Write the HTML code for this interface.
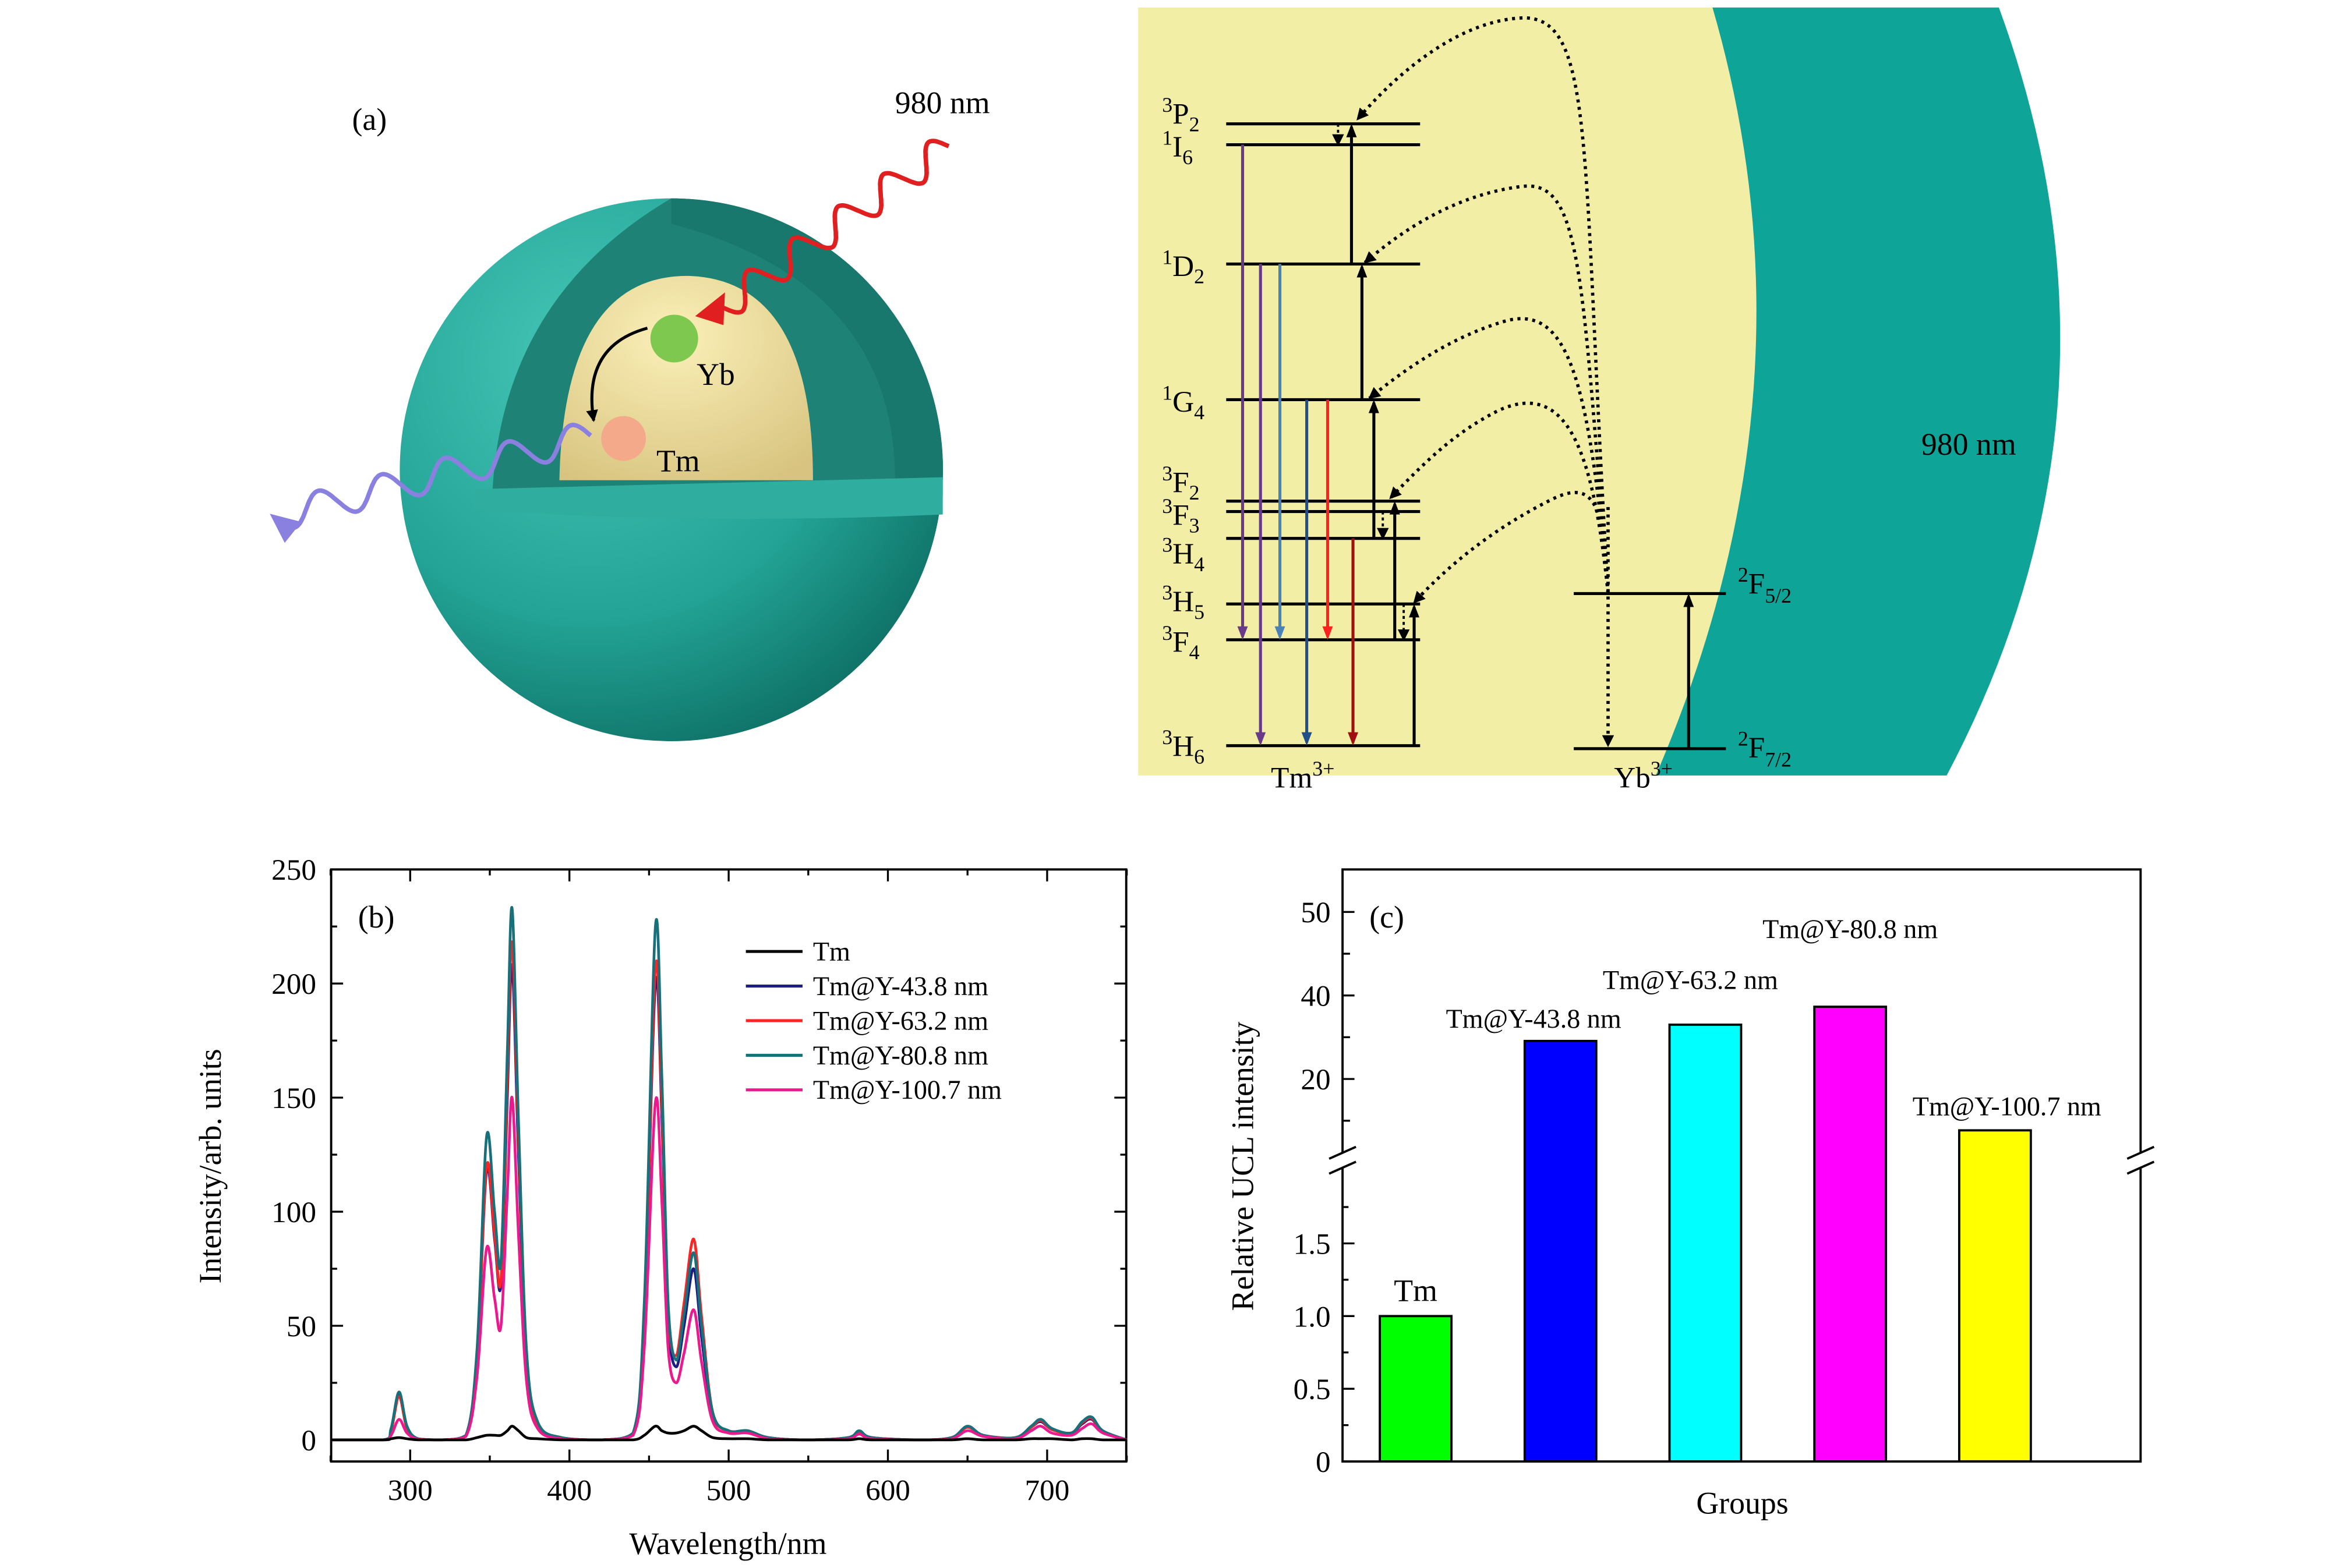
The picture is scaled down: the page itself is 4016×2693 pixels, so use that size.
<!DOCTYPE html>
<html><head><meta charset="utf-8">
<style>
html,body{margin:0;padding:0;background:#fff}
svg{display:block}
text{font-family:"Liberation Serif",serif;fill:#000}
</style></head>
<body>
<svg id="fig" xmlns="http://www.w3.org/2000/svg" width="4016" height="2693" viewBox="0 0 1568 1051.4">
<defs>
<radialGradient id="sph" cx="0.35" cy="0.3" r="0.8">
<stop offset="0" stop-color="#46c7b8"/><stop offset="0.6" stop-color="#22a395"/><stop offset="1" stop-color="#0c6a60"/>
</radialGradient>
<radialGradient id="core" cx="0.45" cy="0.3" r="0.8">
<stop offset="0" stop-color="#fbf0b8"/><stop offset="1" stop-color="#d8c480"/>
</radialGradient>
<marker id="ah" markerWidth="8" markerHeight="8" refX="7" refY="4" orient="auto" markerUnits="userSpaceOnUse"><path d="M0,0 L8,4 L0,8 Z" fill="#000"/></marker>
<marker id="ahP" markerWidth="20" markerHeight="18" refX="16" refY="9" orient="auto" markerUnits="userSpaceOnUse"><path d="M0,0 L20,9 L0,18 Z" fill="#8a80e0"/></marker>
</defs>

<g>
<text x="236" y="87" font-size="21">(a)</text>
<text x="600" y="76" font-size="21">980 nm</text>
<circle cx="450" cy="315" r="182" fill="url(#sph)"/>
<path d="M330,332 Q336,200 450,133 A182,182 0 0 1 632,322 L632,332 Z" fill="#1f8276"/>
<path d="M450,133 A182,182 0 0 1 632,322 L600,322 Q600,190 450,150 Z" fill="#18786d"/>
<path d="M375,322 Q378,184 462,185 Q545,188 545,322 Z" fill="url(#core)"/>
<path d="M318,328 L632,320 L632,345 Q470,352 318,342 Z" fill="#2fae9f"/>
<path id="redwave" fill="none" stroke="#e02020" stroke-width="3"/>
<path d="M466,212 L486,196 L485,218 Z" fill="#e02020"/>
<path id="purwave" fill="none" stroke="#8a80e0" stroke-width="3" marker-end="url(#ahP)"/>
<circle cx="452" cy="227" r="16" fill="#7ec850"/>
<circle cx="418" cy="294" r="15" fill="#f3a98a"/>
<path d="M434,220 Q390,232 398,282" fill="none" stroke="#000" stroke-width="2" marker-end="url(#ah)"/>
<text x="467" y="258" font-size="21">Yb</text>
<text x="440" y="316" font-size="21">Tm</text>
</g>

<g font-size="20">
<path d="M763,5 L1148,5 Q1222,260 1110,520 L763,520 Z" fill="#f3eea6"/>
<path d="M1148,5 L1340,5 Q1437,270 1305,520 L1110,520 Q1222,260 1148,5 Z" fill="#0ea598"/>
<text x="1288" y="305" font-size="21">980 nm</text>
<g id="levels" stroke="#000" stroke-width="2"></g>
<g id="levlabels"></g>
<g id="transitions"></g>
<g id="dotted" fill="none" stroke="#000" stroke-width="2.2" stroke-dasharray="2,3"></g>
<text x="852" y="528">Tm<tspan font-size="14" dy="-8">3+</tspan></text>
<text x="1082" y="528">Yb<tspan font-size="14" dy="-8">3+</tspan></text>
<text x="1165" y="398"><tspan font-size="14" dy="-8">2</tspan><tspan dy="8">F</tspan><tspan font-size="14" dy="6">5/2</tspan></text>
<text x="1165" y="508"><tspan font-size="14" dy="-8">2</tspan><tspan dy="8">F</tspan><tspan font-size="14" dy="6">7/2</tspan></text>
</g>

<g id="chartB">
<rect x="222" y="583" width="533" height="397" fill="none" stroke="#000" stroke-width="1.5"/>
<g id="bTicks"></g>
<g id="bLines"></g>
<text x="240" y="622" font-size="21">(b)</text>
<text x="488" y="1042" font-size="21" text-anchor="middle">Wavelength/nm</text>
<text transform="translate(148,782) rotate(-90)" font-size="21" text-anchor="middle">Intensity/arb. units</text>
<g id="bLegend" font-size="18"></g>
</g>

<g id="chartC">
<g id="cBars"></g>
<rect x="900" y="583" width="535" height="397" fill="none" stroke="#000" stroke-width="1.5"/>
<g id="cTicks"></g>
<text x="918" y="622" font-size="21">(c)</text>
<text x="1168" y="1015" font-size="21" text-anchor="middle">Groups</text>
<text transform="translate(840,782) rotate(-90)" font-size="21" text-anchor="middle">Relative UCL intensity</text>
</g>
</svg>
<script>
const NS="http://www.w3.org/2000/svg";
function mk(tag,attrs,parent,txt){const e=document.createElementNS(NS,tag);for(const k in attrs)e.setAttribute(k,attrs[k]);if(txt!==undefined)e.textContent=txt;parent.appendChild(e);return e;}

const wavelengths=[250,283,288,293,298,305,320,335,342,348,353,357,361,364,368,373,380,395,420,440,447,454,458,462,467,472,478,483,490,500,512,525,550,575,582,590,620,640,650,660,680,690,696,703,715,722,728,735,750];
const seriesNames=["Tm","Tm@Y-43.8 nm","Tm@Y-63.2 nm","Tm@Y-80.8 nm","Tm@Y-100.7 nm"];
const tmValues=[0,0,0.5,1,0.5,0,0,0,1,2,2,2,4,6,4,1,0.5,0,0,0,2,6,4,3,3,4,6,4,1,0.5,0.5,0,0,0,0.5,0,0,0,0.5,0,0,0.5,0.5,0.5,0,0.5,0.5,0,0];
const y438Values=[0,0,4,20,5,0.5,0,2,36,118,88,68,150,208,125,36,7,1,0,3,53,200,142,53,32,50,75,45,11,4,4,1,0,1,3.5,1,0,1,5.5,2,1,5.5,8,4.5,3,7,9,3.5,0];
const y632Values=[0,0,4,19,5,0.5,0,2,37,120,90,70,158,218,132,38,7,1,0,3,55,207,148,56,37,60,88,54,12,4,4,1,0,1,3.5,1,0,1,5.5,2,1,5.5,8.5,4.5,3,7.5,9.5,3.5,0];
const y808Values=[0,0,5,21,6,0.5,0,2,40,133,100,78,170,233,140,40,8,1,0,3,60,225,160,60,35,55,82,50,12,4,4,1,0,1,4,1,0,1,6,2,1,6,9,5,3,8,10,4,0];
const y1007Values=[0,0,2,9,3,0.3,0,1.5,28,84,62,50,108,150,90,26,5,0.5,0,2,40,148,105,40,25,38,57,34,8,3,3,0.5,0,0.5,2.5,0.5,0,0.5,4,1.5,0.5,4,6,3,2,5,7,3,0];
const seriesColors=["#000000","#1c1c84","#ff2424","#17707a","#ea1a8e"];
const xTickLabels=["300","400","500","600","700"];
const yTickLabels=["0","50","100","150","200","250"];

const bx=v=>221.6+(v-250)*1.0675;
const by=v=>965.5-v*1.53;
const base=by(0);

const bT=document.getElementById('bTicks');
for(let v=250;v<=750;v+=50){const maj=v%100===0;const L=maj?8:4;const x=bx(v);
 mk('line',{x1:x,y1:980,x2:x,y2:980-L,stroke:'#000','stroke-width':1.3},bT);
 mk('line',{x1:x,y1:583,x2:x,y2:583+L,stroke:'#000','stroke-width':1.3},bT);}
xTickLabels.forEach(t=>{const e=mk('text',{x:bx(+t),y:1006,'font-size':20,'text-anchor':'middle'},bT,t);});
for(let v=0;v<=250;v+=25){const maj=v%50===0;const L=maj?8:4;const y=by(v);
 mk('line',{x1:222,y1:y,x2:222+L,y2:y,stroke:'#000','stroke-width':1.3},bT);
 mk('line',{x1:755,y1:y,x2:755-L,y2:y,stroke:'#000','stroke-width':1.3},bT);}
yTickLabels.forEach(t=>{const e=mk('text',{x:212,y:by(+t)+7,'font-size':20,'text-anchor':'end'},bT,t);});

function smooth(pts){let d=`M${pts[0][0].toFixed(2)},${pts[0][1].toFixed(2)}`;
 for(let i=0;i<pts.length-1;i++){const p0=pts[Math.max(0,i-1)],p1=pts[i],p2=pts[i+1],p3=pts[Math.min(pts.length-1,i+2)];
  const c1=[p1[0]+(p2[0]-p0[0])/6,Math.min(base,p1[1]+(p2[1]-p0[1])/6)],c2=[p2[0]-(p3[0]-p1[0])/6,Math.min(base,p2[1]-(p3[1]-p1[1])/6)];
  d+=` C${c1[0].toFixed(2)},${c1[1].toFixed(2)} ${c2[0].toFixed(2)},${c2[1].toFixed(2)} ${p2[0].toFixed(2)},${p2[1].toFixed(2)}`;}
 return d;}
const allSeries=[tmValues,y438Values,y632Values,y808Values,y1007Values];
const drawOrder=[1,2,3,4,0];
const bL=document.getElementById('bLines');
drawOrder.forEach(si=>{const pts=wavelengths.map((w,i)=>[bx(w),by(allSeries[si][i])]);
 const p=mk('path',{d:smooth(pts),fill:'none',stroke:seriesColors[si],'stroke-width':1.8},bL);
 });
const lg=document.getElementById('bLegend');
seriesNames.forEach((n,i)=>{const y=638+i*23.2;
 const l=mk('line',{x1:500,y1:y,x2:538,y2:y,stroke:seriesColors[i],'stroke-width':2},lg);
 
 const t=mk('text',{x:545,y:y+6},lg,n);
 });

// bar chart
const groupNames=["Tm","Tm@Y-43.8 nm","Tm@Y-63.2 nm","Tm@Y-80.8 nm","Tm@Y-100.7 nm"];
const groupValues=[1.0,29.1,33.0,37.3,7.7];
const barColors=["#00ff00","#0000ff","#00ffff","#ff00ff","#ffff00"];
const lowerTickLabels=["0","0.5","1.0","1.5"];
const upperTickValues=[20,40,60];
const upperTickLabels=["20","40","50"];
const yL=v=>980-v*97.5;
const yU=v=>723.5-(v-20)*2.8;
const cy=v=>v>2?yU(v):yL(v);
const cxc=i=>949+i*97.1;
const labelDy=[10,9,24,46,10];
const labelDx=[0,-18,-10,0,8];
const cB=document.getElementById('cBars');
groupValues.forEach((v,i)=>{const top=cy(v);
 const r=mk('rect',{x:cxc(i)-24,y:top,width:48,height:980-top,fill:barColors[i],stroke:'#000','stroke-width':1.5},cB);
 
 const t=mk('text',{x:cxc(i)+labelDx[i],y:top-labelDy[i],'font-size':i===0?21:18,'text-anchor':'middle'},cB,groupNames[i]);
 });
const cT=document.getElementById('cTicks');
lowerTickLabels.forEach(t=>{const y=yL(+t);mk('line',{x1:900,y1:y,x2:908,y2:y,stroke:'#000','stroke-width':1.3},cT);
 const e=mk('text',{x:892,y:y+7,'font-size':20,'text-anchor':'end'},cT,t);});
[0.25,0.75,1.25,1.75].forEach(v=>mk('line',{x1:900,y1:yL(v),x2:904,y2:yL(v),stroke:'#000','stroke-width':1.3},cT));
upperTickValues.forEach((v,i)=>{const y=yU(v);mk('line',{x1:900,y1:y,x2:908,y2:y,stroke:'#000','stroke-width':1.3},cT);
 const e=mk('text',{x:892,y:y+7,'font-size':20,'text-anchor':'end'},cT,upperTickLabels[i]);});
[10,30,50].forEach(v=>mk('line',{x1:900,y1:yU(v),x2:905,y2:yU(v),stroke:'#000','stroke-width':1.3},cT));
[900,1435].forEach(x=>{mk('rect',{x:x-6,y:773,width:12,height:10,fill:'#fff'},cT);
 mk('line',{x1:x-9,y1:777,x2:x+9,y2:769,stroke:'#000','stroke-width':1.5},cT);
 mk('line',{x1:x-9,y1:787,x2:x+9,y2:779,stroke:'#000','stroke-width':1.5},cT);});

function wave(x1,y1,x2,y2,n,a){const dx=x2-x1,dy=y2-y1,L=Math.hypot(dx,dy),ux=dx/L,uy=dy/L,nx=-uy,ny=ux;let d='';
 for(let i=0;i<=200;i++){const t=i/200,s=Math.sin(t*n*2*Math.PI)*a;const x=x1+dx*t+nx*s,y=y1+dy*t+ny*s;d+=(i?'L':'M')+x.toFixed(1)+','+y.toFixed(1);}return d;}
document.getElementById('redwave').setAttribute('d',wave(636,98,484,206,5,10));
document.getElementById('purwave').setAttribute('d',wave(396,292,184,347,5,10));

const lv=document.getElementById('levels');
const levelYs=[83,97,177,268,336,343,361,405,429,500];
const levelNames=[["3","P","2"],["1","I","6"],["1","D","2"],["1","G","4"],["3","F","2"],["3","F","3"],["3","H","4"],["3","H","5"],["3","F","4"],["3","H","6"]];
const labelYs=[83,105,185,276,330,352,378,410,437,507];
levelYs.forEach(y=>mk('line',{x1:822,y1:y,x2:952,y2:y},lv));
[398,502].forEach(y=>mk('line',{x1:1055,y1:y,x2:1157,y2:y},lv));
const ll=document.getElementById('levlabels');
levelNames.forEach((n,i)=>{const t=mk('text',{x:779,y:labelYs[i],'font-size':20},ll);
 mk('tspan',{'font-size':14,dy:-8},t,n[0]);mk('tspan',{dy:8},t,n[1]);mk('tspan',{'font-size':14,dy:5},t,n[2]);
 });
const tr=document.getElementById('transitions');
[[833,97,429,'#6a3a8a'],[845,177,500,'#6a3a8a'],[858,177,429,'#4a82b8'],[876,268,500,'#1f4e8a'],[890,268,429,'#ff2020'],[907,361,500,'#a01010']].forEach(a=>{
 mk('line',{x1:a[0],y1:a[1],x2:a[0],y2:a[2]-2,stroke:a[3],'stroke-width':2},tr);
 mk('path',{d:`M${a[0]-3.5},${a[2]-9} L${a[0]+3.5},${a[2]-9} L${a[0]},${a[2]} Z`,fill:a[3]},tr);});
[[1132,502,398],[948,500,405],[935,429,336],[921,361,268],[913,268,177],[906,177,83]].forEach(a=>{
 mk('line',{x1:a[0],y1:a[1],x2:a[0],y2:a[2]+2,stroke:'#000','stroke-width':2},tr);
 mk('path',{d:`M${a[0]-3.5},${a[2]+9} L${a[0]+3.5},${a[2]+9} L${a[0]},${a[2]} Z`,fill:'#000'},tr);});
[[897,83,97],[927,343,361],[941,405,429]].forEach(a=>mk('line',{x1:a[0],y1:a[1],x2:a[0],y2:a[2],stroke:'#000','stroke-width':1.5,'stroke-dasharray':'2,2','marker-end':'url(#ah)'},tr));
const dt=document.getElementById('dotted');
["M1078,398 C1060,100 1070,10 1020,12 C980,14 940,45 910,80",
 "M1078,398 C1060,180 1060,120 1020,125 C980,130 945,150 915,176",
 "M1078,398 C1065,250 1050,205 1010,215 C975,225 945,245 918,267",
 "M1078,398 C1068,300 1050,255 1005,275 C975,290 955,310 932,334",
 "M1078,398 C1075,340 1070,320 1040,335 C1000,355 970,380 948,404",
 "M1078,340 L1078,500"].forEach(d=>mk('path',{d:d,'marker-end':'url(#ah)'},dt));
</script>
</body></html>
